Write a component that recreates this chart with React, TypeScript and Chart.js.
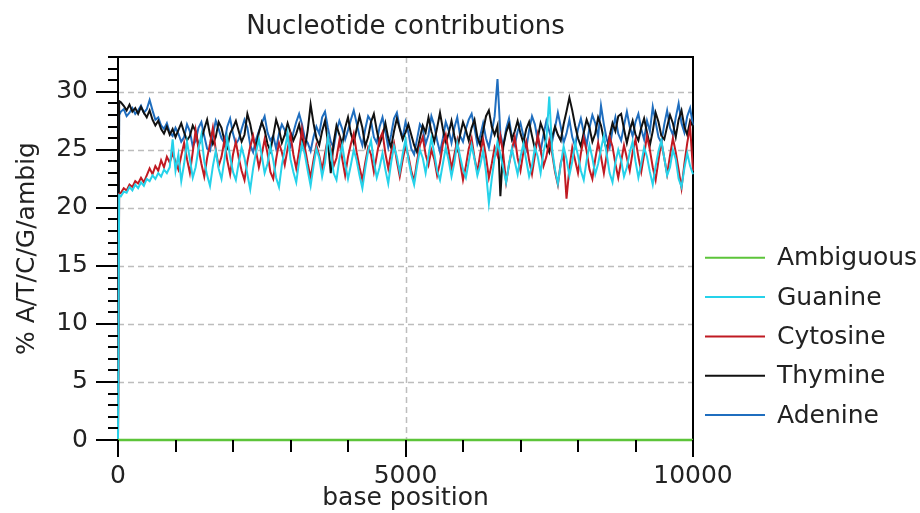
import React, { useEffect, useRef } from "react";
import { Chart, registerables } from "chart.js";

Chart.register(...registerables);

const TITLE = "Nucleotide contributions";
const X_TITLE = "base position";
const Y_TITLE = "% A/T/C/G/ambig";
const X_TICKS = [0, 5000, 10000];
const Y_TICKS = [0, 5, 10, 15, 20, 25, 30];

// values read every 50 bp (plus the start at 0 and 20 bp)
const ADENINE = [
  0, 28.0,
  28.3, 28.5, 27.9, 28.2, 28.6, 28.1, 28.4, 28.8, 28.2, 28.5, 29.3, 28.4, 27.6, 27.8, 27.1, 26.8, 27.3, 26.5, 26.2, 26.9,
  26.4, 25.7, 26.1, 27.2, 26.6, 25.3, 25.8, 26.9, 27.4, 26.2, 25.1, 24.9, 26.3, 27.5, 26.8, 26.0, 25.6, 27.0, 27.7, 26.4,
  25.5, 25.9, 26.8, 27.6, 26.9, 25.4, 24.8, 25.9, 26.6, 27.3, 27.9, 26.5, 25.8, 26.2, 25.1, 26.4, 27.2, 26.7, 25.9, 25.3,
  26.5, 27.4, 28.1, 27.2, 26.0, 25.6, 24.9, 26.1, 27.0, 26.4, 27.8, 28.3, 26.9, 25.7, 25.2, 26.6, 27.5, 26.8, 25.9, 26.7,
  27.6, 28.4, 27.3, 26.2, 25.4, 26.8, 27.9, 27.5, 26.1, 25.6, 27.0, 27.8, 26.6, 25.2, 26.3, 27.7, 28.2, 26.9, 26.0, 27.4,
  26.5, 25.1, 24.6, 25.9, 27.2, 26.8, 25.5, 26.3, 27.9, 27.1, 25.8, 24.8, 26.0, 27.4, 26.7, 25.6, 26.9, 27.8, 26.2, 25.7,
  26.8, 27.6, 28.1, 26.9, 25.5, 26.2, 27.3, 26.0, 25.2, 26.5, 27.9, 31.1, 26.4, 25.3, 26.8, 27.7, 26.1, 25.4, 26.6, 27.3,
  26.2, 25.1, 26.7, 27.9, 27.2, 25.8, 24.9, 26.3, 27.5, 26.6, 25.7, 26.9, 28.2, 27.0, 25.6, 26.4, 27.6, 26.1, 25.3, 26.8,
  27.7, 26.5, 25.4, 26.9, 28.0, 27.3, 26.1, 28.8, 27.2, 25.9, 25.2, 26.7, 27.8, 26.4, 25.8, 27.1, 28.3, 27.0, 26.2, 27.4,
  28.1, 26.8, 25.9, 27.5, 26.6, 28.7, 27.4, 26.1, 25.6, 27.2, 28.4, 26.9, 26.3, 27.8, 29.0, 27.3, 26.5, 27.9, 28.6, 27.1,
];

const THYMINE = [
  0, 29.2,
  29.1, 28.8, 28.4, 28.9, 28.3, 28.6, 28.1, 28.7, 28.2, 27.8, 28.4, 27.6, 27.1, 27.5, 26.8, 26.4, 27.0, 26.3, 26.8, 26.1,
  26.7, 27.3, 26.5, 25.8, 26.2, 27.1, 26.6, 25.4, 25.9, 26.8, 27.6, 26.3, 25.5, 26.1, 27.4, 26.9, 25.8, 25.2, 26.4, 26.9,
  27.5, 26.6, 25.7, 26.3, 28.1, 27.2, 25.9, 25.3, 26.5, 27.4, 26.7, 25.5, 24.9, 26.2, 27.6, 26.8, 25.6, 26.3, 27.3, 26.5,
  25.8, 26.4, 27.2, 25.9, 25.1, 26.7, 28.9, 27.3, 26.0, 25.4, 26.6, 27.5, 25.7, 23.0, 25.6, 27.1, 26.3, 25.5, 26.9, 27.8,
  26.4, 25.6, 26.8, 27.9, 26.9, 25.3, 26.1, 27.4, 28.1, 26.7, 25.5, 26.2, 27.3, 26.0, 25.2, 26.6, 27.7, 26.8, 25.9, 26.5,
  27.2, 26.3, 25.4, 24.8, 26.0, 27.1, 26.5, 27.8, 26.6, 25.7, 26.9, 28.2, 26.8, 25.6, 26.4, 27.5, 26.2, 25.1, 26.3, 27.4,
  26.7, 25.8, 26.9, 27.6, 26.1, 25.4, 26.6, 27.9, 28.4, 27.0, 26.3, 27.1, 21.0, 25.3, 26.5, 27.2, 25.9, 26.6, 27.5, 26.4,
  25.6, 26.8, 27.4, 26.2, 25.1, 26.0, 27.3, 26.6, 25.4, 24.8, 26.1, 27.0, 26.3, 25.8, 27.2, 28.3, 29.5, 28.4, 27.1, 26.0,
  25.3, 26.5, 27.6, 26.9, 25.7, 26.4, 27.8, 27.1, 25.9, 25.0, 26.2, 27.3, 26.6, 27.9, 28.1, 26.8, 25.6, 26.7, 27.5, 26.3,
  25.8, 26.9, 27.7, 26.5, 25.4, 26.6, 28.2, 27.4, 26.2, 25.9, 27.0, 28.0, 27.3, 26.1, 27.6, 28.4, 27.0, 26.3, 27.5, 27.0,
];

const CYTOSINE = [
  0, 21.2,
  21.3, 21.7, 21.5, 22.0, 21.8, 22.3, 22.1, 22.6, 22.2, 22.8, 23.4, 22.9, 23.6, 23.2, 24.1, 23.5, 24.4, 23.9, 24.7, 24.0,
  23.3, 24.5, 25.6, 24.2, 23.0, 24.8, 26.7, 25.1, 23.8, 22.7, 24.3, 25.5, 26.9, 25.0, 23.6, 24.4, 25.8, 24.1, 22.9, 24.6,
  25.7, 24.3, 23.2, 22.4, 24.0, 25.3, 26.2, 24.9, 23.5, 24.6, 25.9, 24.7, 23.1, 22.5, 24.2, 25.6, 24.8, 23.7, 25.1, 26.3,
  24.6, 23.4, 24.9, 26.8, 25.2, 23.8, 22.6, 24.1, 25.4, 24.5, 23.3, 24.7, 26.0, 25.1, 23.6, 24.3, 25.8, 24.2, 22.8, 24.4,
  25.5, 26.4, 24.8, 23.5, 22.4, 23.9, 25.2, 24.6, 23.1, 24.5, 25.9, 26.5, 24.7, 23.4, 24.8, 25.6, 24.0, 22.7, 24.1, 25.3,
  24.5, 23.2, 22.3, 24.0, 25.4, 26.1, 24.6, 23.7, 25.0, 24.2, 22.8, 23.9, 25.5, 26.3, 24.9, 23.4, 24.6, 25.8, 23.9, 22.4,
  23.6, 25.1, 26.0, 24.3, 23.1, 24.7, 25.9, 24.4, 22.6, 23.8, 25.2, 24.5, 26.2, 24.6, 22.2, 23.7, 25.0, 26.1, 24.3, 23.2,
  24.8, 25.7, 24.1, 22.9, 24.5, 26.3, 25.0, 23.6, 24.4, 25.8, 24.7, 23.1, 22.0, 23.9, 24.6, 20.8, 23.4, 25.2, 24.1, 23.0,
  24.7, 26.0, 24.9, 23.3, 22.5, 24.2, 25.6, 24.4, 23.0, 24.6, 26.1, 25.3, 23.8, 22.6, 24.0, 25.4, 24.3, 23.2, 24.8, 25.9,
  24.4, 23.1, 24.6, 26.2, 25.0, 23.5, 22.4, 24.1, 25.7, 24.3, 22.9, 24.5, 26.0, 24.8, 23.3, 21.7, 23.8, 25.6, 27.0, 23.2,
];

const GUANINE = [
  0, 21.1,
  21.0, 21.4, 21.3, 21.8, 21.5, 22.0, 21.7, 22.2, 21.9, 22.5, 22.3, 22.8, 22.5, 23.0, 22.7, 23.3, 23.0, 23.5, 25.9, 23.2,
  24.6, 22.3, 23.8, 25.7, 24.2, 22.6, 23.5, 25.1, 26.3, 24.0, 22.8, 21.9, 23.6, 24.9, 23.4, 22.5, 24.1, 26.0, 24.4, 23.1,
  22.4, 23.9, 25.2, 24.3, 22.9, 21.6, 23.4, 24.8, 25.9, 24.5, 23.0, 23.8, 25.3, 24.1, 22.6, 21.8, 23.7, 25.0, 26.4, 24.2,
  23.1, 22.2, 24.0, 25.5, 24.6, 23.2, 21.9, 23.6, 25.1, 24.3, 22.7, 23.9, 26.1, 24.8, 23.0, 22.4, 24.2, 25.4, 23.8, 22.5,
  23.7, 25.0, 24.1, 22.8, 21.7, 23.4, 24.9, 25.8, 24.0, 22.6, 23.5, 24.7, 23.3, 22.1, 23.9, 25.3, 24.4, 23.1, 24.6, 25.9,
  24.2, 22.9, 22.0, 23.6, 25.0, 24.3, 23.0, 24.5, 26.0, 24.7, 23.2, 22.4, 23.8, 25.2, 24.1, 22.7, 23.9, 25.6, 24.4, 23.3,
  22.6, 24.0, 25.4, 24.2, 22.8, 23.7, 24.9, 23.1, 20.4, 22.5, 24.3, 25.7, 24.6, 23.4, 22.2, 23.8, 25.1, 24.0, 22.9, 24.4,
  25.5, 24.1, 22.7, 23.6, 25.2, 24.4, 23.0, 24.8, 25.9, 29.6, 25.0, 23.3, 22.1, 23.7, 25.3, 24.2, 22.8, 24.0, 25.6, 24.5,
  23.2, 22.4, 24.1, 25.4, 24.3, 22.9, 23.8, 25.1, 26.2, 24.6, 23.0, 22.2, 23.9, 25.0, 24.1, 22.7, 23.5, 24.8, 25.7, 24.0,
  22.6, 23.8, 25.2, 24.4, 23.1, 22.0, 23.6, 24.9, 25.8, 24.3, 22.8, 23.5, 25.0, 24.2, 22.5, 21.8, 23.4, 24.7, 23.6, 22.9,
];

// base positions matching the series above: 0, 20, then every 50 bp up to 10000
const POSITIONS = [0, 20, ...Array.from({ length: ADENINE.length - 2 }, (_, i) => (i + 1) * 50)];

const AMBIGUOUS = POSITIONS.map(() => 0);

const SERIES_NAMES = ["Ambiguous", "Guanine", "Cytosine", "Thymine", "Adenine"];
const SERIES_COLORS = ["#5cc43a", "#25d2ea", "#c01a22", "#111111", "#1f6ebf"];
const SERIES_VALUES = [AMBIGUOUS, GUANINE, CYTOSINE, THYMINE, ADENINE];

const FONT = "'DejaVu Sans', Verdana, sans-serif";

const framePlugin = {
  id: "frameAndTicks",
  beforeDatasetsDraw(chart: any) {
    const { ctx, chartArea, scales } = chart;
    const { left, right, top, bottom } = chartArea;
    const x = scales.x;
    const y = scales.y;
    ctx.save();
    ctx.strokeStyle = "#bdbdbd";
    ctx.lineWidth = 1.5;
    ctx.setLineDash([6, 4]);
    for (const v of Y_TICKS) {
      if (v === 0) continue;
      const py = Math.round(y.getPixelForValue(v)) + 0.5;
      ctx.beginPath();
      ctx.moveTo(left, py);
      ctx.lineTo(right, py);
      ctx.stroke();
    }
    const px5 = Math.round(x.getPixelForValue(5000)) + 0.5;
    ctx.beginPath();
    ctx.moveTo(px5, top);
    ctx.lineTo(px5, bottom);
    ctx.stroke();
    ctx.setLineDash([]);
    ctx.strokeStyle = "#000";
    ctx.lineWidth = 2;
    ctx.strokeRect(left, top, right - left, bottom - top);
    ctx.restore();
  },
  afterDraw(chart: any) {
    const { ctx, chartArea, scales } = chart;
    const { left, right, bottom } = chartArea;
    const x = scales.x;
    const y = scales.y;
    ctx.save();
    ctx.strokeStyle = "#000";
    ctx.lineWidth = 2;
    for (let v = 0; v <= 33; v++) {
      const py = Math.round(y.getPixelForValue(v));
      const len = v % 5 === 0 ? 22 : 10;
      ctx.beginPath();
      ctx.moveTo(left - len, py);
      ctx.lineTo(left, py);
      ctx.stroke();
    }
    for (let v = 0; v <= 10000; v += 1000) {
      const px = Math.round(x.getPixelForValue(v));
      const len = v % 5000 === 0 ? 17 : 12;
      ctx.beginPath();
      ctx.moveTo(px, bottom);
      ctx.lineTo(px, bottom + len);
      ctx.stroke();
    }
    // legend
    const n = SERIES_NAMES.length;
    const step = 39.3;
    ctx.font = `25px ${FONT}`;
    ctx.textBaseline = "middle";
    ctx.textAlign = "left";
    for (let i = 0; i < n; i++) {
      const ly = bottom - 25 - (n - 1 - i) * step;
      ctx.strokeStyle = SERIES_COLORS[i];
      ctx.lineWidth = 2;
      ctx.beginPath();
      ctx.moveTo(right + 12, ly);
      ctx.lineTo(right + 72, ly);
      ctx.stroke();
      ctx.fillStyle = "#222";
      ctx.fillText(SERIES_NAMES[i], right + 84, ly + 1);
    }
    ctx.restore();
  },
};

export default function App() {
  const ref = useRef<HTMLCanvasElement | null>(null);
  useEffect(() => {
    if (!ref.current) return;
    const datasets = SERIES_NAMES.map((name, i) => ({
      label: name,
      data: SERIES_VALUES[i].map((v, j) => ({ x: POSITIONS[j], y: v })),
      borderColor: SERIES_COLORS[i],
      backgroundColor: SERIES_COLORS[i],
      borderWidth: i === 0 ? 2.5 : 2,
      pointRadius: 0,
      tension: 0,
      clip: false as any,
    }));
    const chart = new Chart(ref.current, {
      type: "line",
      data: { datasets },
      options: {
        responsive: false,
        animation: false,
        layout: { padding: { left: 0, right: 227, top: 0, bottom: 0 } },
        plugins: {
          legend: { display: false },
          tooltip: { enabled: false },
          title: {
            display: true,
            text: TITLE,
            fullSize: false,
            color: "#222",
            font: { family: FONT, size: 26, weight: "normal" },
            padding: { top: 12, bottom: 13.8 },
          },
        },
        scales: {
          x: {
            type: "linear",
            min: 0,
            max: 10000,
            afterBuildTicks: (s: any) => {
              s.ticks = X_TICKS.map((v) => ({ value: v }));
            },
            afterFit: (s: any) => {
              s.height = 73;
            },
            grid: { display: false, drawTicks: false },
            border: { display: false },
            ticks: {
              color: "#222",
              padding: 21,
              maxRotation: 0,
              font: { family: FONT, size: 25 },
              callback: (v: any) => String(v),
            },
            title: {
              display: true,
              text: X_TITLE,
              color: "#222",
              font: { family: FONT, size: 25 },
              padding: { top: 0, bottom: 0 },
            },
          },
          y: {
            type: "linear",
            min: 0,
            max: 33,
            afterBuildTicks: (s: any) => {
              s.ticks = Y_TICKS.map((v) => ({ value: v }));
            },
            afterFit: (s: any) => {
              s.width = 118;
            },
            grid: { display: false, drawTicks: false },
            border: { display: false },
            ticks: {
              color: "#222",
              padding: 30,
              font: { family: FONT, size: 25 },
            },
            title: {
              display: true,
              text: Y_TITLE,
              color: "#222",
              font: { family: FONT, size: 25 },
              padding: { top: 12, bottom: 0 },
            },
          },
        },
      },
      plugins: [framePlugin],
    });
    return () => chart.destroy();
  }, []);
  return (
    <div style={{ position: "fixed", left: 0, top: 0, width: 920, height: 513, background: "#fff" }}>
      <canvas ref={ref} width={920} height={513} />
    </div>
  );
}
